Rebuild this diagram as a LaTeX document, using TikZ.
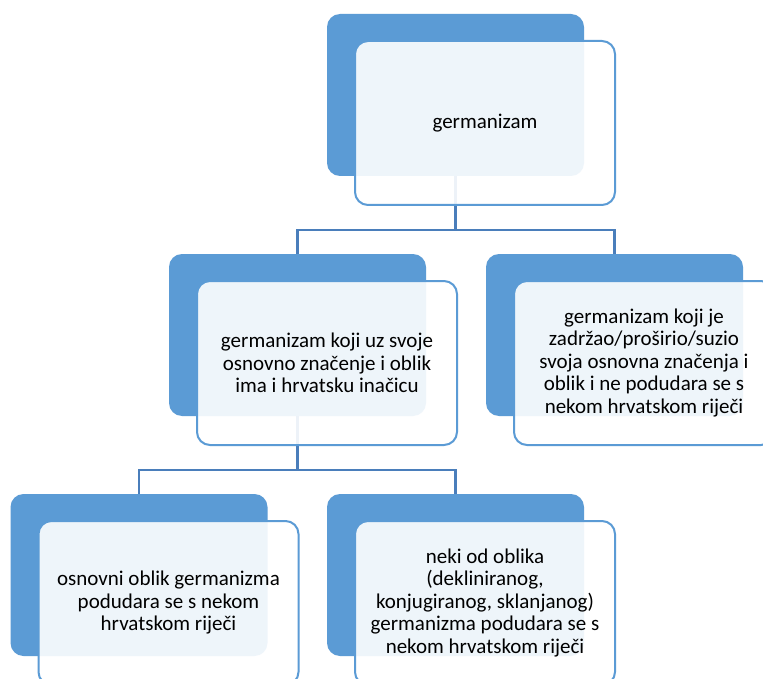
\documentclass[tikz,border=0pt]{standalone}
\usepackage{fontspec}
\setmainfont{Carlito}
\usetikzlibrary{calc}
\definecolor{smartblue}{HTML}{5B9BD5}
\definecolor{linkblue}{HTML}{4A7EBB}
\tikzset{
	back/.style={fill=smartblue,rounded corners=13,minimum width=257,minimum height=162,inner sep=0},
	front/.style={draw=smartblue,line width=2,fill=white,fill opacity=0.9,text opacity=1,rounded corners=13,
		minimum width=260,minimum height=164,inner sep=0,align=center,text=black,font=\fontsize{21}{22.5}\selectfont},
	link/.style={draw=linkblue,line width=2.4}
}
\begin{document}
\begin{tikzpicture}[x=1pt,y=-1pt]
	\clip (0,0) rectangle (763,679);
	\fill[white] (0,0) rectangle (763,679);
	\coordinate (rootc) at (455.5,95);
	\coordinate (ac) at (297.5,335);
	\coordinate (bc) at (614.5,335);
	\coordinate (cc) at (139,575);
	\coordinate (dc) at (455.5,575);

	\draw [link] (rootc) -- ++(0,135) -| (ac);
	\draw [link] (rootc) -- ++(0,135) -| (bc);
	\draw [link] (ac) -- ++(0,135) -| (cc);
	\draw [link] (ac) -- ++(0,135) -| (dc);

	\node [back] at (rootc) (rootb) {};
	\node [front] at ($(rootc)+(29.5,28)$) (root) {germanizam};

	\node [back] at (ac) (ab) {};
	\node [front] at ($(ac)+(29.5,28)$) (a) {germanizam koji uz svoje\\osnovno značenje i oblik\\ima i hrvatsku inačicu};

	\node [back] at (bc) (bb) {};
	\node [front] at ($(bc)+(29.5,28)$) (b) {germanizam koji je\\zadržao/proširio/suzio\\svoja osnovna značenja i\\oblik i ne podudara se s\\nekom hrvatskom riječi};

	\node [back] at (cc) (cb) {};
	\node [front] at ($(cc)+(29.5,28)$) (c) {osnovni oblik germanizma\\podudara se s nekom\\hrvatskom riječi};

	\node [back] at (dc) (db) {};
	\node [front] at ($(dc)+(29.5,28)$) (d) {neki od oblika\\(dekliniranog,\\konjugiranog, sklanjanog)\\germanizma podudara se s\\nekom hrvatskom riječi};
\end{tikzpicture}
\end{document}
